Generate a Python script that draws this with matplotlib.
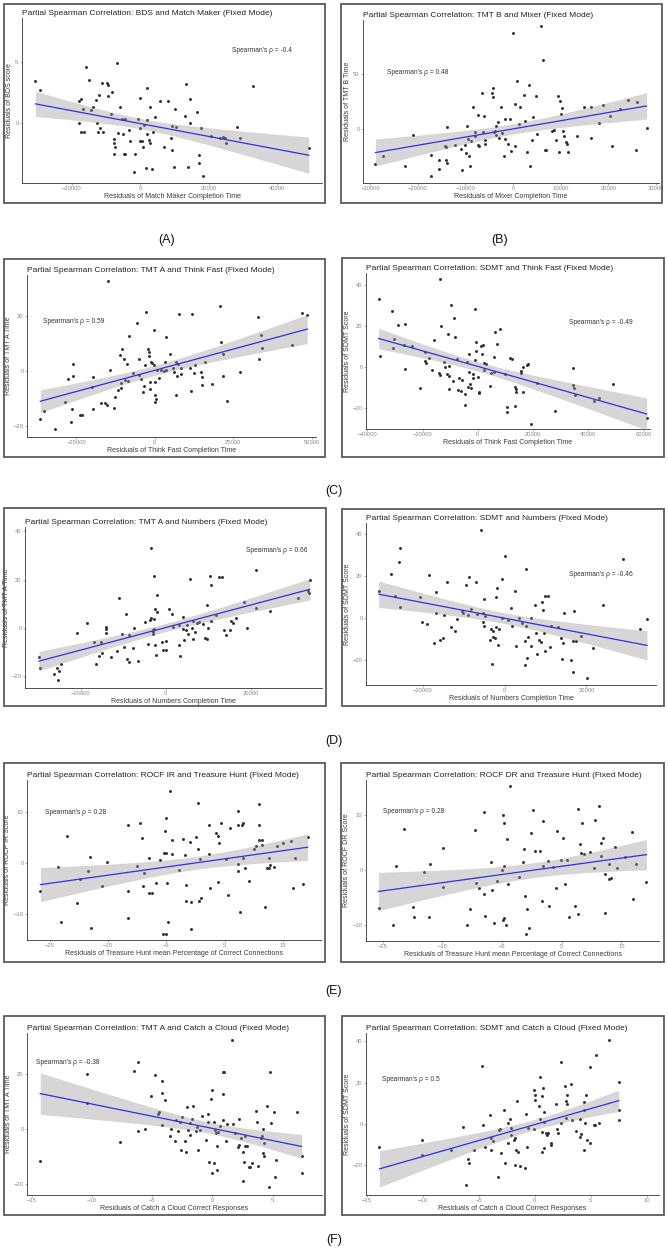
import numpy as np
import matplotlib
matplotlib.use("Agg")
import matplotlib.pyplot as plt
from matplotlib.patches import Rectangle

plt.rcParams['font.family'] = ['Liberation Sans', 'DejaVu Sans']

# residual pairs (x, y)
match_maker_bds = [(-30700, 3.5), (-29300, 2.7), (-17400, 2.0), (-17900, 1.8), (-18000, 0.0), (-17500, -0.7),
    (-16400, -0.7), (-16800, 1.2), (-15900, 4.6), (-14900, 3.55), (-14400, 1.1), (-13900, 1.3), (-13000, 1.9),
    (-12800, 0.0), (-12500, -0.7), (-12200, 2.3), (-11700, -0.4), (-11300, 3.3), (-10900, -0.7), (-9800, 3.3),
    (-9600, 3.1), (-9600, 2.2), (-8500, 0.8), (-8300, 2.6), (-7300, -1.9), (-7800, -1.6), (-7600, -1.3),
    (-7700, -2.5), (-6900, 4.9), (-6600, -0.8), (-6000, 1.3), (-5400, 0.35), (-4400, 0.35), (-4900, -2.5),
    (-4400, -2.5), (-5100, -0.9), (-3400, -0.5), (-3100, -1.4), (-1800, -4.0), (-1500, -2.5), (-700, 0.33),
    (-200, 2.1), (0, -0.4), (0, -1.4), (400, -1.4), (700, -1.9), (1200, -0.15), (1600, -3.6), (2000, 2.9),
    (2000, 0.3), (2000, -0.9), (2600, -1.35), (2900, -1.6), (2900, 1.3), (3400, -3.7), (3700, -0.7),
    (4400, 0.55), (5700, 1.85), (6800, -1.9), (8100, 1.8), (9000, -1.2), (9300, -0.2), (9400, -2.2),
    (10000, -3.55), (10200, 1.2), (10400, -0.3), (13000, 0.6), (13500, 3.2), (13900, -3.55), (14400, 0.05),
    (14600, 2.0), (16600, 0.9), (17300, -2.6), (17300, -3.2), (17800, -0.4), (18400, -4.3), (20700, -1.05),
    (23200, -1.2), (24200, -1.1), (24700, -1.2), (25000, -1.6), (28300, -0.3), (29100, -1.2), (33000, 3.05),
    (49300, -2.0)]

mixer_tmtb = [(-28900, -32), (-27300, -24), (-22700, -33), (-21000, -5.5), (-17200, -23), (-17200, -42),
    (-15600, -28), (-15500, -36), (-14200, -15), (-14100, -16), (-13900, 2), (-14000, -28), (-13900, -31),
    (-12100, -14), (-10900, -18), (-10700, -37), (-10200, -14), (-9900, -22), (-9700, 3), (-9500, -8.5),
    (-9200, -24), (-9100, -33), (-8800, -11), (-8500, 20), (-8100, -6), (-7900, -3), (-7400, 13), (-7400, -14),
    (-7100, -15), (-6500, 33), (-6300, -3), (-6100, 11.5), (-6000, -9.5), (-6000, -13), (-4400, 33),
    (-4300, 37), (-4200, 29), (-4100, -2.7), (-3800, -1.5), (-3700, 2.7), (-3600, -5), (-3100, 6.4),
    (-2900, -8), (-2600, 20), (-2400, -3.3), (-1900, -24), (-1800, 9), (-1700, -8.5), (-1100, -13), (-700, 9),
    (-400, -20), (-100, 87.5), (300, 23), (400, -15.5), (900, 43.6), (1200, 4.5), (1500, 20), (2200, 31),
    (2500, 7.6), (2900, -20.6), (3400, 40), (3500, -33), (3900, -9.4), (4100, 11), (4800, 29.7), (5000, -4),
    (5900, 93.6), (6200, 63), (6600, -19), (6900, -18.5), (8200, -1.5), (8500, -0.9), (8900, -9.4), (9500, 30),
    (9700, -20.6), (9800, 26), (10100, 14), (10300, 19), (10500, -1.5), (10700, -6), (11100, -11.5),
    (11200, -13.6), (11500, -20.6), (13300, -6), (14800, 19.7), (16400, 20.3), (16400, -7.6), (18100, 6),
    (18900, 21.5), (20300, 11.8), (20800, -15), (22400, 18), (24000, 26.4), (25700, -18.5), (26000, 24.5),
    (28000, 1)]

thinkfast_tmta = [(-36500, -17.5), (-35300, -14.8), (-31800, -21.4), (-28700, -11.4), (-27700, -2.8),
    (-26600, -18.7), (-26300, -14.1), (-26100, 2.7), (-26200, -1.8), (-23900, -16), (-23300, -16),
    (-19900, -5.9), (-19700, -2.4), (-19700, -13.8), (-17200, -11.6), (-15900, -11.7), (-15400, -12.6),
    (-14800, 32.9), (-14400, 0.5), (-13000, -13.5), (-12800, -9.4), (-11700, -6.9), (-11200, 5.8),
    (-10700, -6.2), (-10700, -4.4), (-10300, 8), (-9800, 4.5), (-9400, -3.5), (-9000, 2.7), (-8700, -3.7),
    (-8300, 12.6), (-6800, -0.7), (-5600, 17.7), (-5000, -1.6), (-4900, 4.3), (-4400, -2.8), (-3900, -7.7),
    (-3400, -5.6), (-3100, 2.1), (-2700, 21.7), (-2300, 8), (-2000, 5.5), (-1700, 7), (-1600, -4),
    (-1500, -6.5), (-1100, 3.3), (-900, 2.9), (-400, 14.8), (-300, 2.3), (100, -4), (100, -11.4), (200, -8.7),
    (500, -10.4), (700, 0.2), (1200, -2.6), (2100, 0.2), (2900, 0.1), (3200, 3.3), (3600, 0.2), (3700, 12.4),
    (5000, 6.2), (5900, 0.9), (6000, -0.4), (6700, -8.9), (6800, 3.3), (7200, -1.8), (7300, 2.7), (7800, 20.9),
    (8200, 1.1), (8500, -1), (11200, 1.2), (11500, -7.5), (12000, 20.7), (12600, -0.6), (12800, 2.1),
    (16000, 3.1), (14800, -0.4), (15000, -2.3), (14900, -5.3), (18200, -4.9), (20700, 23.9), (21000, 10.6),
    (21600, 6.1), (21600, -1.8), (22900, -11.1), (27300, -0.4), (32800, 19.7), (33100, 4.5), (34000, 13.3),
    (34100, 8.2), (43700, 9.4), (47000, 21.2), (48600, 20.4)]

thinkfast_sdmt = [(-35900, 33.1), (-35300, 5.4), (-31000, 26.9), (-30400, 13.5), (-30700, 9.3), (-29000, 20.1),
    (-26800, 10.6), (-26200, 20.9), (-26200, -1.3), (-24000, 9.8), (-21100, -10.3), (-19300, 7.3),
    (-19200, 2.8), (-18900, 1.6), (-17800, 4.4), (-16500, -1.6), (-15900, 13.1), (-14000, -3.3),
    (-13800, -4.1), (-13600, 42.7), (-13400, 19.9), (-12300, 2.1), (-12000, 0), (-11100, -3.8), (-10800, 15.8),
    (-10500, -11.1), (-10500, 0.5), (-9700, 29.9), (-10300, -4.7), (-9100, -7), (-8500, 23.7), (-8200, 14.2),
    (-7700, 3.6), (-7100, -11.4), (-6800, -5.7), (-6000, -11.7), (-5600, -6.5), (-4800, -18.8), (-4500, -13.5),
    (-4100, 2.4), (-3600, -9.8), (-3300, 6), (-3300, -2.9), (-2700, -8.6), (-2300, -10.6), (-1700, -3.8),
    (-1700, -5.4), (-1200, 3.3), (-900, 28.2), (-600, 11.9), (-600, 7.7), (100, -4.9), (500, -12.2),
    (600, -12.9), (1000, 9.8), (1600, 6.2), (1800, 10.6), (2200, -1.6), (2400, 1.6), (3100, 1.1), (4300, -9.5),
    (4600, -3.3), (5800, 4.9), (5800, -2.9), (6300, 16.8), (6800, 10.9), (8000, 18.4), (9700, -3.8),
    (10400, -19.9), (10400, -22), (11800, 4.1), (12200, 3.8), (13400, -9.8), (13700, -11.1), (13400, -19.2),
    (13900, -12.2), (15500, -3.3), (15800, -2), (16200, -12.6), (16300, 0), (17900, 0.8), (18100, 1.3),
    (19100, -28.2), (21300, -8.2), (28100, -21.7), (34400, -0.5), (34300, -9), (35000, -13.9), (34800, -10.6),
    (42000, -16.6), (43800, -15.5), (49000, -8.5), (61100, -25.3)]

numbers_tmta = [(-29800, -12), (-29600, -16.4), (-26200, -19.1), (-25500, -16.4), (-25400, -21.6),
    (-25000, -17.7), (-24700, -15), (-20900, -1.9), (-18400, 2.1), (-16800, -6), (-16400, -14.7),
    (-15800, -11.6), (-15300, -5.8), (-14900, -10.2), (-14000, 0.4), (-14000, -0.6), (-14000, -1.9),
    (-12900, -12), (-11400, -9.5), (-11100, 12.5), (-10300, -2.3), (-9800, -7.8), (-9400, 5.6), (-9000, -12.7),
    (-8700, -2.8), (-8600, -14), (-7800, -8.3), (-7500, 0), (-6600, -13.5), (-4900, 2.5), (-4100, -6.5),
    (-3800, 3.2), (-3500, 33), (-3400, 4.3), (-3100, -1), (-2900, -1.6), (-2900, -2.3), (-2800, 21.3),
    (-2700, 3.6), (-2700, -0.3), (-2400, -11.3), (-2500, 8), (-2100, 6.6), (-2100, 13.5), (-2500, -6.9),
    (-800, -5.8), (100, -5.5), (100, -8.9), (-700, -9.2), (700, 8), (1400, 5.9), (1800, 0.3), (3000, 1.1),
    (3200, -7.2), (3400, -11.6), (4000, 4.5), (4000, -0.3), (4200, -4.8), (4700, -0.7), (4900, 1.1),
    (5300, -2.3), (5600, 20.4), (6100, 0.1), (6400, 2.9), (6500, -4.4), (6900, -1.6), (7300, 2.2), (7900, 2.5),
    (8700, 1.5), (9200, -4.1), (9600, 9.4), (9600, -4.4), (9800, 0), (10300, 21.5), (10600, 2.9), (10700, 17.9),
    (11700, 5.5), (12600, 21), (13100, 20.9), (13600, -1), (14100, -3), (15100, -1), (15400, 2.8), (15900, 2.1),
    (16500, 4.1), (18400, 10.7), (19000, 0), (21200, 23.8), (21300, 8.3), (24400, 6.9), (31000, 12.5),
    (33300, 15.1), (33600, 14.6), (33800, 19.7)]

numbers_sdmt = [(-30800, 13), (-27700, 20.9), (-26900, 10.7), (-25900, 26.5), (-25700, 33.2), (-25500, 5.2),
    (-20700, 9.8), (-20200, -1.9), (-18900, -2.8), (-18400, 20.2), (-17300, -11.8), (-16900, 2.4),
    (-16700, 12.2), (-15700, -10.3), (-15000, -9.5), (-14900, 1.6), (-14200, 17.1), (-13100, -4.4),
    (-12200, -6.3), (-11600, -0.3), (-10400, 3.2), (-10300, 2.4), (-9500, 15.5), (-9000, 1.6), (-8600, 19.3),
    (-8300, 4.3), (-6900, 17.1), (-6700, 2.1), (-5700, 41.9), (-5400, 2.4), (-5200, -1.6), (-5100, -3.9),
    (-5000, 9), (-4800, 0.8), (-3600, -10.3), (-3400, -5.2), (-3100, -21.8), (-2900, -6.3), (-2800, -8.7),
    (-2400, -9.2), (-2100, -4.3), (-2000, 9.8), (-1800, 14.2), (-1600, -12.6), (-1500, -5.1), (-700, 0.3),
    (-600, 18.5), (200, 29.2), (700, -1.1), (1500, 4.7), (1900, -3.5), (2500, 13), (2800, -13), (3500, 0),
    (4200, -2.4), (4900, -22.1), (4900, -11), (5100, 23.4), (5300, -3.9), (5400, -19), (5600, -8.7), (6400, 0),
    (6500, -13), (7500, 6.3), (7700, -7.1), (7800, -17.1), (8400, -10.3), (8800, -11.4), (9200, 7.6), (9400, 4),
    (9600, -6.8), (9800, 10.6), (9900, -15.5), (10600, 10.7), (11100, -13.4), (11300, -3.5), (13100, -4.4),
    (13700, -9.5), (14100, -19.3), (14400, 2.4), (14200, -11.8), (16300, -19.7), (16600, -10.7),
    (16700, -25.3), (17000, 3.5), (17400, -10.7), (18600, -8.2), (20200, -28.4), (21700, -14.2), (24000, 6),
    (29000, 28.1), (33100, -5.1), (34800, -0.5)]

treasure_rocf_ir = [(-26.6, -5.6), (-23.6, -0.8), (-23.0, -11.6), (-22.1, 5.3), (-20.3, -7.9), (-19.9, -3.1),
    (-18.4, -1.6), (-18.1, 1.2), (-18.0, -12.9), (-16.1, -4.5), (-15.2, 0.1), (-11.6, 7.4), (-11.6, -5.6),
    (-11.6, -10.8), (-10.1, -0.6), (-9.6, 7.9), (-9.2, 4.9), (-9.1, -4.5), (-8.8, -2.1), (-8.0, -6), (-8.0, 1.0),
    (-7.4, -5.9), (-6.8, -3.9), (-6.1, 0.5), (-5.6, -14.1), (-5.5, 2), (-5.3, 6.3), (-5.1, -14.1), (-5.0, 2.0),
    (-5.0, 8.9), (-4.9, -3.9), (-4.8, -11.6), (-4.3, 14.1), (-4.1, 4.5), (-4.0, 1.8), (-2.8, -1.4), (-2.1, 4.6),
    (-1.8, 1.5), (-1.6, -4.3), (-1.6, -7.5), (-1.0, 4), (-0.7, -7.7), (-0.7, -13), (0.0, 5.1), (0.5, 11.7),
    (0.5, 2.7), (0.6, -7.5), (0.7, 0.7), (0.9, -7), (2.3, 1.8), (2.3, 7.5), (2.4, -4.9), (4.4, 7.9), (3.5, 5.9),
    (3.8, 5.2), (4.1, 3.9), (3.8, -3.7), (5.6, -6.4), (5.9, 6.9), (5.2, 0.7), (7.2, 10.2), (7.3, 7.4),
    (7.2, -0.3), (7.3, -1.6), (7.7, -9.6), (8.0, 7.4), (8.2, 7.9), (8.2, 0.9), (8.4, -1), (9.2, -3.5),
    (10.1, 2.8), (10.3, 3.3), (10.8, 11.5), (10.9, 7.5), (10.9, 4.5), (11.3, 4.5), (11.3, 3.5), (11.9, -8.8),
    (12.3, -1.1), (12.6, -1.1), (12.6, 1), (12.8, -0.5), (13.5, -0.8), (13.9, 3.3), (14.9, 3.8), (16.4, 4.3),
    (16.7, -4.9), (17.1, 0.9), (18.4, -4.1), (19.2, 5.1)]

treasure_rocf_dr = [(-25.7, -6.8), (-23.3, -9.9), (-22.7, 0.8), (-21.5, 7.5), (-20.0, -6.7), (-19.7, -8.4),
    (-18.0, -0.3), (-17.3, -8.4), (-17.0, 1.1), (-14.9, 4.1), (-14.9, -3), (-10.9, -9.9), (-10.4, -7.1),
    (-9.6, 7.4), (-9.3, -2.3), (-8.8, -3.2), (-8.1, 10.6), (-8.0, -4.4), (-7.8, -8.3), (-6.8, 1.5), (-6.7, -3.5),
    (-6.4, -9.6), (-5.8, -1.9), (-5.0, 0), (-4.9, 10), (-4.9, -9.1), (-4.7, -8.7), (-4.7, 0.8), (-4.6, 8.6),
    (-4.4, -9.9), (-4.2, 5.6), (-4.0, -2.5), (-3.7, 15.3), (-2.2, -1.3), (-1.5, 1.5), (-1.3, 3.8), (-1.1, -4.7),
    (-1.0, -11.6), (-0.8, -7.1), (-0.5, -10.4), (-0.1, 6.7), (0.2, 10.9), (0.5, 3.5), (1.3, 3.5), (1.7, -5.5),
    (1.8, 8.9), (1.9, 0.8), (2.7, 1.6), (2.8, -6.5), (3.5, 0.6), (4.1, -3.2), (4.2, 7.1), (4.8, 1.8), (5.2, 5.8),
    (5.5, -2.5), (5.9, 1.8), (6.2, -8.5), (7.3, -6.5), (7.7, 11.1), (7.8, -7.9), (8.1, 4.8), (8.2, 3.2),
    (8.4, 8.5), (8.7, 2.9), (9.7, 3.3), (10.4, 0.5), (10.5, 9.1), (11.2, 11.7), (11.5, 5), (11.5, 2.6),
    (11.9, 5.8), (12.3, -7.8), (12.3, -0.6), (13.0, 1.1), (13.0, -1.5), (13.3, -1.4), (13.9, 4.2), (14.2, 0.4),
    (15.6, 2.4), (16.7, 7), (17.0, -5.3), (17.5, 1.1), (19.2, -2.2)]

cloud_tmta = [(-14.3, -11.7), (-10.4, 20.1), (-10.4, 9.4), (-7.7, -4.7), (-6.5, 21.1), (-6.2, 24.5),
    (-6.2, -0.6), (-5.6, 0), (-5.1, 12.2), (-4.8, 19.8), (-4.5, 5.5), (-4.4, 6), (-4.2, 17.7), (-4.2, 13.1),
    (-4.2, 1.5), (-3.9, 10.4), (-3.5, -2.6), (-3.4, 0), (-3.1, -4.3), (-3.0, 3.1), (-2.9, -0.6), (-2.7, 2.4),
    (-2.6, -7.7), (-2.5, 4.5), (-2.3, -4.3), (-2.2, -8.6), (-2.1, 8), (-2.0, -0.4), (-1.9, -2.2), (-1.9, 2.1),
    (-1.7, 3.7), (-1.6, 8.2), (-1.4, -0.6), (-1.3, 0.6), (-1.2, -7.7), (-1.0, -0.4), (-0.9, 4.9), (-0.5, -4),
    (-0.4, 5.5), (-0.4, 2.7), (-0.3, -12.2), (-0.1, 10.9), (0.0, 14.1), (0.1, -12.4), (0.0, -16.3), (0.1, 2.4),
    (0.2, -0.4), (0.3, -1.6), (0.4, -6.1), (0.4, -15.1), (0.5, -1.3), (0.6, 0.9), (0.9, 12.9), (0.9, 21),
    (1.0, 20.7), (0.9, 3.3), (1.1, -4.3), (1.2, 1.8), (1.6, 32.7), (1.7, 1.8), (1.9, -1.6), (2.1, -6.5),
    (2.2, -5.9), (2.2, 3.7), (2.4, -3.2), (2.5, -8.6), (2.5, -19.1), (2.6, -12), (2.7, -2.6), (2.7, -6.1),
    (2.9, -6.1), (3.0, -13.8), (3.1, -14.1), (3.3, -12.4), (3.6, 6.4), (3.7, 2.4), (3.8, -13.5), (4.0, -3.2),
    (4.1, -2.6), (4.2, -0.1), (4.2, -8.7), (4.3, -9.8), (4.3, -5.3), (4.5, 8.4), (4.7, -21.4), (4.8, 20.8),
    (4.9, 2.3), (5.1, 6), (5.2, -17.5), (5.3, -11.4), (7.0, 6.1), (7.4, -9.8), (7.4, -16)]

cloud_sdmt = [(-13.9, -11), (-10.1, -7.8), (-10.1, -15.1), (-7.5, -12.6), (-6.4, -1.3), (-6.2, -29.7),
    (-6.0, -17.2), (-5.9, -18.8), (-5.4, -12.6), (-4.7, 27.9), (-4.6, -0.5), (-4.5, -11.3), (-4.0, 4.4),
    (-3.9, -12.6), (-3.9, -7), (-3.7, -8.1), (-3.3, -25.9), (-3.2, -2.9), (-3.1, -2.6), (-3.0, -14.3),
    (-2.8, 6.5), (-2.7, -18.8), (-2.4, -9.4), (-2.4, 0.6), (-2.2, 2.3), (-2.1, -2.1), (-2.1, -5.3), (-1.9, -7.8),
    (-1.8, -19.9), (-1.8, -7), (-1.7, -12.6), (-1.6, 11.3), (-1.5, -13.5), (-1.3, -20.4), (-0.9, -21.2),
    (-0.8, 4.9), (-0.7, -11), (-0.6, -2.1), (-0.1, -2.6), (-0.1, 16.5), (0.0, 14.1), (0.0, 11.7), (0.4, 8.8),
    (0.5, 22.7), (0.5, 2.3), (0.6, -4.1), (0.6, -13.5), (0.6, 13.3), (0.7, 17.3), (0.8, 6), (0.8, 1.1),
    (0.8, -11.5), (1.0, -4.2), (1.1, -5.3), (1.2, -4.2), (1.4, -9.4), (1.4, -10.2), (1.9, 9.7), (2.0, -2.6),
    (2.1, -4.2), (2.3, 29.8), (2.3, 0.3), (2.7, 18.5), (2.8, 2.8), (2.8, 11.3), (2.9, 9.6), (2.9, 14.1),
    (3.2, 19.3), (3.3, 1.9), (3.7, -3.4), (4.0, 2.3), (4.0, -6.2), (4.1, -5), (4.4, 6.8), (4.4, 10.4),
    (4.4, -12.6), (4.5, 0.3), (4.6, 14.1), (4.7, -7.8), (4.9, -9.1), (4.9, 27.4), (5.3, -0.5), (5.4, -0.5),
    (5.5, 33.5), (5.7, 0.6), (6.6, 40.8), (7.5, 20.1), (7.5, 6.8), (7.5, 1.9)]

titles = ["Partial Spearman Correlation: BDS and Match Maker (Fixed Mode)",
          "Partial Spearman Correlation: TMT B and Mixer (Fixed Mode)",
          "Partial Spearman Correlation: TMT A and Think Fast (Fixed Mode)",
          "Partial Spearman Correlation: SDMT and Think Fast (Fixed Mode)",
          "Partial Spearman Correlation: TMT A and Numbers (Fixed Mode)",
          "Partial Spearman Correlation: SDMT and Numbers (Fixed Mode)",
          "Partial Spearman Correlation: ROCF IR and Treasure Hunt (Fixed Mode)",
          "Partial Spearman Correlation: ROCF DR and Treasure Hunt (Fixed Mode)",
          "Partial Spearman Correlation: TMT A and Catch a Cloud (Fixed Mode)",
          "Partial Spearman Correlation: SDMT and Catch a Cloud (Fixed Mode)"]
xlabels = ["Residuals of Match Maker Completion Time", "Residuals of Mixer Completion Time",
           "Residuals of Think Fast Completion Time", "Residuals of Think Fast Completion Time",
           "Residuals of Numbers Completion Time", "Residuals of Numbers Completion Time",
           "Residuals of Treasure Hunt mean Percentage of Correct Connections",
           "Residuals of Treasure Hunt mean Percentage of Correct Connections",
           "Residuals of Catch a Cloud Correct Responses", "Residuals of Catch a Cloud Correct Responses"]
ylabels = ["Residuals of BDS score", "Residuals of TMT B Time", "Residuals of TMT A Time",
           "Residuals of SDMT Score", "Residuals of TMT A Time", "Residuals of SDMT Score",
           "Residuals of ROCF IR Score", "Residuals of ROCF DR Score", "Residuals of TMT A Time",
           "Residuals of SDMT Score"]
rhos = ["-0.4", "0.48", "0.59", "-0.49", "0.66", "-0.46", "0.28", "0.28", "-0.38", "0.5"]
xticks = [[-20000, 0, 20000, 40000], [-30000, -20000, -10000, 0, 10000, 20000, 30000],
          [-25000, 0, 25000, 50000], [-40000, -20000, 0, 20000, 40000, 60000],
          [-20000, 0, 20000], [-20000, 0, 20000], [-25, -15, -5, 5, 15], [-25, -15, -5, 5, 15],
          [-15, -10, -5, 0, 5], [-15, -10, -5, 0, 5, 10]]
yticks = [[0, 5], [0, 50], [-20, 0, 20], [-20, 0, 20, 40], [-20, 0, 20, 40], [-20, 0, 20, 40],
          [-10, 0, 10], [-10, 0, 10], [-20, 0, 20], [-20, 0, 20, 40]]
xlims = [(-34650, 53200), (-31500, 30600), (-40750, 51400), (-40470, 62300), (-33080, 36700),
         (-33900, 37000), (-28.9, 21.5), (-27.8, 21.3), (-15.4, 9.1), (-15.1, 11.1)]
ylims = [(-4.86, 8.6), (-48.8, 99), (-24.2, 35.1), (-30.5, 45.7), (-24.8, 41.7), (-31.6, 45),
         (-15.2, 16.3), (-12.85, 16.4), (-24.2, 35.1), (-34.5, 44.1)]

panels = [match_maker_bds, mixer_tmtb, thinkfast_tmta, thinkfast_sdmt, numbers_tmta, numbers_sdmt,
          treasure_rocf_ir, treasure_rocf_dr, cloud_tmta, cloud_sdmt]

# layout in pixels: frame (x0, y0, x1, y1) and plot area (left, top, right, bottom)
frames = [(4, 4, 325, 203), (341, 4, 662, 203), (4, 259, 325, 457), (342, 258, 664, 457),
          (4, 508, 326, 706), (342, 509, 664, 706), (4, 763, 325, 962), (341, 763, 664, 962),
          (4, 1016, 325, 1215), (342, 1016, 664, 1215)]
areas = [(22, 18, 322, 183), (363, 20, 659, 183), (27, 275, 316, 437), (366, 273, 650, 429),
         (25, 527, 322, 688), (366, 523, 656, 685), (27, 780, 321, 940), (366, 780, 659, 941),
         (27, 1033, 322, 1195), (366, 1033, 659, 1195)]
rho_pos = [(0.70, 0.80), (0.081, 0.68), (0.055, 0.71), (0.714, 0.68), (0.745, 0.855), (0.70, 0.68),
           (0.06, 0.80), (0.058, 0.807), (0.032, 0.82), (0.055, 0.71)]
letters = [("(A)", 167, 240), ("(B)", 500, 240), ("(C)", 334, 491), ("(D)", 334, 741),
           ("(E)", 334, 991), ("(F)", 334, 1240)]

W, H = 668, 1252
fig = plt.figure(figsize=(W / 100, H / 100), dpi=100)


def lm_band(x, y):
    slope, icpt = np.polyfit(x, y, 1)
    xs = np.linspace(x.min(), x.max(), 100)
    fit = icpt + slope * xs
    n = len(x)
    s = np.sqrt(((y - (icpt + slope * x)) ** 2).sum() / (n - 2))
    se = s * np.sqrt(1 / n + (xs - x.mean()) ** 2 / ((x - x.mean()) ** 2).sum())
    return xs, fit, fit - 1.98 * se, fit + 1.98 * se


for i, pts in enumerate(panels):
    x0, y0, x1, y1 = frames[i]
    fig.add_artist(Rectangle((x0 / W, 1 - y1 / H), (x1 - x0) / W, (y1 - y0) / H,
                             transform=fig.transFigure, fill=False, ec='#5a5a5a', lw=1.3))
    l, t, r, b = areas[i]
    ax = fig.add_axes([l / W, 1 - b / H, (r - l) / W, (b - t) / H])
    x = np.array([p[0] for p in pts], float)
    y = np.array([p[1] for p in pts], float)
    ax.scatter(x, y, s=4.5, color='#2e2e2e', lw=0, zorder=2)
    xs, fit, lo, hi = lm_band(x, y)
    ax.fill_between(xs, lo, hi, color='#999999', alpha=0.4, lw=0, zorder=3)
    ax.plot(xs, fit, color='#3030e0', lw=0.9, zorder=4)
    ax.set_xlim(xlims[i])
    ax.set_ylim(ylims[i])
    ax.set_xticks(xticks[i])
    ax.set_yticks(yticks[i])
    for sp in ['top', 'right']:
        ax.spines[sp].set_visible(False)
    for sp in ['left', 'bottom']:
        ax.spines[sp].set_color('#333333')
        ax.spines[sp].set_linewidth(0.6)
    ax.tick_params(labelsize=4.2, colors='#8a8a8a', length=1.5, width=0.5, pad=1)
    ax.set_xlabel(xlabels[i], fontsize=5, color='#3a3a3a', labelpad=1)
    ax.set_ylabel(ylabels[i], fontsize=5, color='#3a3a3a', labelpad=1.5)
    ax.set_title(titles[i], loc='left', fontsize=6.0, color='#222222', pad=2.5)
    ax.text(rho_pos[i][0], rho_pos[i][1], "Spearman's \u03c1 = " + rhos[i], transform=ax.transAxes,
            fontsize=4.8, color='#333333', ha='left', va='center')

for lab, lx, ly in letters:
    fig.text(lx / W, 1 - ly / H, lab, fontsize=9, ha='center', va='center', color='#111111')

fig.savefig("out.png", dpi=100)
